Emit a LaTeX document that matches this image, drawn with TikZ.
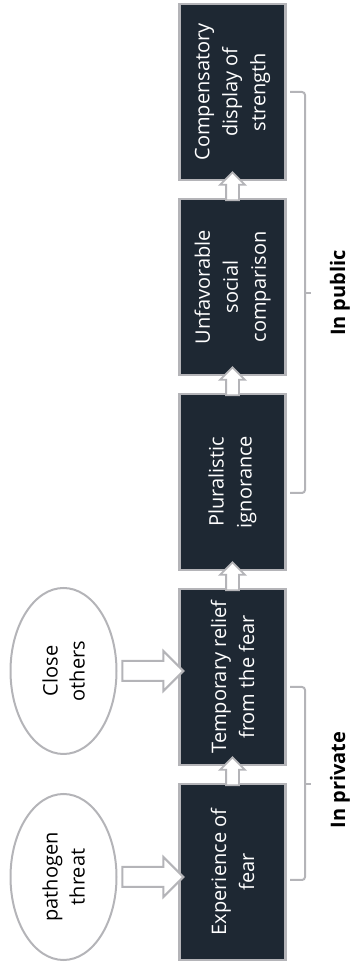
\documentclass[tikz,border=0pt]{standalone}
\usepackage{fontspec}
\setmainfont{Open Sans}
\usetikzlibrary{shapes,shapes.arrows,calc}
\definecolor{boxfill}{HTML}{1E2833}
\definecolor{rim}{HTML}{B4B4B8}
\tikzset{
  stage/.style={draw=rim, line width=2.5pt, fill=boxfill, text=white, rotate=90,
    minimum width=176pt, minimum height=106pt, inner sep=0pt, align=center,
    font=\fontsize{20}{28}\selectfont},
  cause/.style={draw=rim, line width=2pt, ellipse, rotate=90, minimum width=166pt,
    minimum height=106pt, inner sep=0pt, align=center, font=\fontsize{20}{27}\selectfont},
  bigarrow/.style={single arrow, draw=rim, line width=2pt, fill=white, inner xsep=0pt,
    inner ysep=9pt, single arrow head extend=10pt, minimum height=61pt},
  smallarrow/.style={single arrow, draw=rim, line width=1.8pt, fill=white, inner xsep=0pt,
    inner ysep=5.5pt, single arrow head extend=6pt, minimum height=28pt, rotate=90},
  bracket/.style={rim, line width=2pt},
  sidelabel/.style={rotate=90, font=\fontsize{20}{24}\selectfont\bfseries}
}
\begin{document}
\begin{tikzpicture}[x=1pt,y=1pt]
\useasboundingbox (0,0) rectangle (353,965);

% the chain of stages
\node[stage] (exp) at (232.5,93) {Experience of\\fear};
\node[stage] (rel) at (232.5,288) {Temporary relief\\from the fear};
\node[stage] (plu) at (232.5,483) {Pluralistic\\ignorance};
\node[stage] (cmp) at (232.5,678) {Unfavorable\\social\\comparison};
\node[stage] (str) at (232.5,873) {Compensatory\\display of\\strength};

% the two causes
\node[cause] (pt) at (63.5,88) {pathogen\\threat};
\node[cause] (co) at (63.5,294) {Close\\others};

\path (pt.south) -- (pt.south -| exp.north) node[midway,bigarrow] {};
\path (co.south) -- (co.south -| rel.north) node[midway,bigarrow] {};

\path (exp.east) -- (rel.west) node[midway,smallarrow] {};
\path (rel.east) -- (plu.west) node[midway,smallarrow] {};
\path (plu.east) -- (cmp.west) node[midway,smallarrow] {};
\path (cmp.east) -- (str.west) node[midway,smallarrow] {};

% braces
\draw[bracket, rounded corners=3pt] (290,278) -- (305,278) -- (305,85) -- (290,85);
\draw[bracket] (305,181) -- (311,181);
\draw[bracket, rounded corners=3pt] (290,873) -- (305,873) -- (305,472) -- (290,472);
\draw[bracket] (305,672) -- (311,672);

\node[sidelabel] (priv) at (340,185) {In private};
\node[sidelabel] (publ) at (340,672) {In public};
\end{tikzpicture}
\end{document}
